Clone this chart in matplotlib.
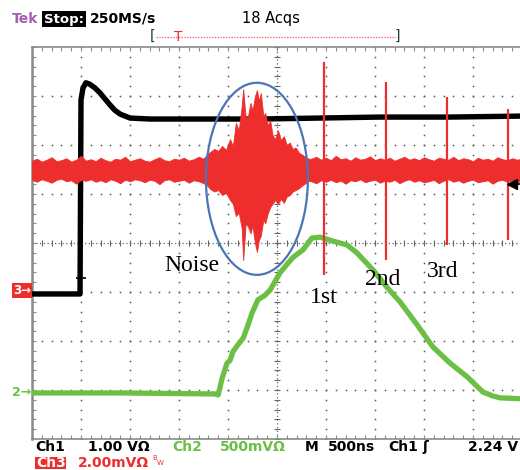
import matplotlib.pyplot as plt
from matplotlib.patches import Ellipse, Rectangle
from matplotlib.lines import Line2D
import numpy as np

W, H = 520, 470

# traces, in graticule divisions (x: -5..5, y: -4..4)
ch1_x = [-5.0, -4.02, -4.0, -3.96, -3.90, -3.82, -3.71, -3.61, -3.51, -3.41, -3.31,
         -3.20, -3.10, -3.0, -2.59, -1.57, -0.35, 0.87, 2.10, 3.53, 5.0]
ch1_y = [-1.04, -1.04, 2.92, 3.16, 3.27, 3.24, 3.16, 3.06, 2.94, 2.82, 2.71,
         2.63, 2.59, 2.55, 2.53, 2.53, 2.53, 2.55, 2.57, 2.57, 2.59]

ch2_x = [-5.0, -3.20, -1.27, -1.20, -1.12, -1.02, -0.96, -0.90, -0.80, -0.69, -0.60,
         -0.51, -0.39, -0.25, -0.14, 0.06, 0.20, 0.33, 0.53, 0.71, 0.88, 1.14, 1.43,
         1.63, 1.96, 2.24, 2.51, 2.86, 3.18, 3.53, 3.88, 4.20, 4.40, 4.55, 5.0]
ch2_y = [-3.06, -3.06, -3.08, -3.10, -2.76, -2.45, -2.40, -2.22, -2.08, -1.94, -1.70,
         -1.43, -1.16, -1.07, -0.96, -0.61, -0.44, -0.29, -0.14, 0.10, 0.12, 0.04, -0.04,
         -0.20, -0.55, -0.90, -1.20, -1.67, -2.12, -2.45, -2.73, -3.04, -3.12, -3.16, -3.18]

# Ch3 noise band envelope
ch3_x = [-5.0, -4.9, -4.8, -4.7, -4.6, -4.5, -4.4, -4.3, -4.2, -4.1, -4.0, -3.9,
         -3.8, -3.7, -3.6, -3.5, -3.4, -3.3, -3.2, -3.1, -3.0, -2.9, -2.8, -2.7,
         -2.6, -2.5, -2.4, -2.3, -2.2, -2.1, -2.0, -1.9, -1.8, -1.7, -1.6, -1.5,
         -1.45, -1.36, -1.28, -1.20, -1.12, -1.04, -0.96, -0.90, -0.84, -0.78, -0.72,
         -0.69, -0.64, -0.59, -0.54, -0.50, -0.45, -0.41, -0.37, -0.33, -0.28, -0.24,
         -0.19, -0.14, -0.09, -0.04, 0.02, 0.08, 0.14, 0.20, 0.26, 0.32, 0.38, 0.45,
         0.52, 0.58, 0.64,
         0.7, 0.8, 0.9, 1.0, 1.1, 1.2, 1.3, 1.4, 1.5, 1.6, 1.7, 1.8, 1.9, 2.0, 2.1,
         2.2, 2.3, 2.4, 2.5, 2.6, 2.7, 2.8, 2.9, 3.0, 3.1, 3.2, 3.3, 3.4, 3.5, 3.6,
         3.7, 3.8, 3.9, 4.0, 4.1, 4.2, 4.3, 4.4, 4.5, 4.6, 4.7, 4.8, 4.9, 5.0]
ch3_top = [1.68, 1.72, 1.66, 1.70, 1.75, 1.67, 1.69, 1.73, 1.66, 1.70, 1.78, 1.68,
           1.71, 1.67, 1.74, 1.69, 1.66, 1.72, 1.70, 1.76, 1.67, 1.70, 1.73, 1.68,
           1.66, 1.71, 1.75, 1.69, 1.67, 1.72, 1.70, 1.74, 1.68, 1.71, 1.76, 1.72,
           1.78, 1.86, 1.92, 1.88, 1.98, 1.90, 2.12, 1.98, 2.45, 2.30, 2.80,
           3.14, 2.55, 2.60, 2.86, 2.70, 3.00, 3.12, 2.90, 3.06, 2.60, 2.65,
           2.40, 2.50, 2.20, 2.12, 2.30, 2.10, 2.18, 2.00, 2.05, 1.92, 1.95, 1.84,
           1.80, 1.76, 1.72,
           1.72, 1.76, 1.70, 1.74, 1.69, 1.78, 1.71, 1.73, 1.68, 1.75, 1.70, 1.72,
           1.77, 1.69, 1.73, 1.70, 1.74, 1.68, 1.72, 1.76, 1.70, 1.73, 1.69, 1.75,
           1.71, 1.68, 1.74, 1.72, 1.70, 1.76, 1.69, 1.73, 1.71, 1.67, 1.74, 1.70,
           1.72, 1.68, 1.75, 1.71, 1.69, 1.73, 1.70, 1.72]
ch3_bot = [1.29, 1.25, 1.30, 1.27, 1.23, 1.29, 1.31, 1.26, 1.28, 1.21, 1.29, 1.27,
           1.30, 1.25, 1.28, 1.24, 1.30, 1.27, 1.22, 1.29, 1.26, 1.30, 1.28, 1.24,
           1.29, 1.27, 1.20, 1.28, 1.30, 1.25, 1.27, 1.29, 1.23, 1.28, 1.26, 1.22,
           1.20, 1.10, 1.05, 1.08, 0.98, 1.02, 0.88, 0.80, 0.55, 0.62, 0.30,
           -0.35, 0.40, 0.33, 0.20, 0.35, 0.00, -0.18, 0.06, 0.15, 0.47, 0.40,
           0.60, 0.73, 0.80, 0.88, 0.80, 0.90, 0.82, 0.95, 0.98, 1.05, 1.08, 1.12,
           1.18, 1.22, 1.27,
           1.26, 1.22, 1.28, 1.25, 1.29, 1.24, 1.27, 1.21, 1.28, 1.26, 1.30, 1.24,
           1.27, 1.29, 1.23, 1.27, 1.25, 1.29, 1.22, 1.27, 1.30, 1.25, 1.28, 1.24,
           1.26, 1.29, 1.22, 1.27, 1.30, 1.25, 1.28, 1.23, 1.27, 1.29, 1.24, 1.26,
           1.28, 1.21, 1.27, 1.29, 1.25, 1.28, 1.24, 1.27]

spike_x = [0.96, 2.22, 3.47, 4.71]
spike_top = [3.69, 3.29, 2.98, 2.73]
spike_bot = [-0.65, -0.35, -0.04, 0.06]

labels = ['Noise', '1st', '2nd', '3rd']
label_x = [-2.29, 0.67, 1.80, 3.06]
label_y = [-0.57, -1.22, -0.86, -0.69]

ell_center = (-0.41, 1.31)
ell_w, ell_h = 2.08, 3.92

RED = '#ee2d2d'
GREEN = '#6cbf45'
GRAY = '#8a8a8a'

fig = plt.figure(figsize=(W / 100, H / 100), dpi=100)
ax = fig.add_axes([32 / W, 31 / H, 490 / W, 392 / H])
ax.set_xlim(-5, 5)
ax.set_ylim(-4, 4)
ax.axis('off')

# graticule dots
fine_x = np.arange(-5, 5.01, 0.2)
fine_y = np.arange(-4, 4.01, 0.2)
for gx in range(-4, 5):
    if gx != 0:
        ax.plot([gx] * len(fine_y), fine_y, ls='none', marker='s', ms=1.1, color='#555555', mew=0)
for gy in range(-3, 4):
    if gy != 0:
        ax.plot(fine_x, [gy] * len(fine_x), ls='none', marker='s', ms=1.1, color='#555555', mew=0)

# centre lines with ticks
ax.plot([-5, 5], [0, 0], ls=(0, (1, 2)), color='#666666', lw=0.9)
ax.plot([0, 0], [-4, 4], ls=(0, (1, 2)), color='#666666', lw=0.9)
ax.plot(fine_x, [0] * len(fine_x), ls='none', marker='|', ms=4, mew=0.8, color='#666666')
ax.plot([0] * len(fine_y), fine_y, ls='none', marker='_', ms=4, mew=0.8, color='#666666')

# frame: top & bottom rulers, left edge
ax.plot([-5, 5], [4, 4], color=GRAY, lw=1.2, clip_on=False)
ax.plot([-5, 5], [-4, -4], color=GRAY, lw=1.2, clip_on=False)
ax.plot([-5, -5], [-4, 4], color=GRAY, lw=1.8, clip_on=False)
ax.vlines(fine_x, 3.91, 4, color=GRAY, lw=0.8)
ax.vlines(fine_x, -4, -3.91, color=GRAY, lw=0.8)
ax.hlines(fine_y, -5, -4.92, color=GRAY, lw=0.8)

# traces
ax.plot(ch1_x, ch1_y, color='black', lw=3.9, solid_joinstyle='round', zorder=3)
ax.hlines(-0.71, -4.10, -3.90, color='black', lw=1.2, zorder=3)
ax.plot(ch2_x, ch2_y, color=GREEN, lw=3.8, solid_joinstyle='round', zorder=4)
ax.fill_between(ch3_x, ch3_bot, ch3_top, color=RED, lw=0.6, zorder=5)
ax.vlines(spike_x, spike_bot, spike_top, color=RED, lw=1.6, zorder=5)
ax.plot([4.8], [1.2], marker='<', ms=7, color='black', zorder=6)
ax.plot([4.8, 5.0], [1.2, 1.2], color='black', lw=1.2, zorder=6)

ax.add_patch(Ellipse(ell_center, ell_w, ell_h, fill=False, ec='#4a76b5', lw=1.6, zorder=7))

for t, x, y in zip(labels, label_x, label_y):
    ax.text(x, y, t, family='Liberation Serif', fontsize=17, ha='left', va='baseline', zorder=8)


def ft(x, y, s, **kw):
    kw.setdefault('family', 'DejaVu Sans')
    kw.setdefault('fontweight', 'bold')
    kw.setdefault('fontsize', 10)
    kw.setdefault('va', 'center')
    fig.text(x / W, 1 - y / H, s, **kw)


# header
ft(12, 19, 'Tek', color='#a45fb0')
ft(44, 19, 'Stop:', color='white', fontsize=9.5,
   bbox=dict(boxstyle='square,pad=0.12', fc='black', ec='none'))
ft(90, 19, '250MS/s')
ft(242, 19, '18 Acqs', fontweight='normal', fontsize=10.5)
ft(150, 36, '[', color='#1e3c3c', fontweight='normal', fontsize=10)
ft(395, 36, ']', color='#1e3c3c', fontweight='normal', fontsize=10)
fig.add_artist(Line2D([156 / W, 396 / W], [1 - 37 / H] * 2, color='#f07070', lw=1,
                      ls=(0, (1, 1)), transform=fig.transFigure))
ft(178, 37, 'T', color=RED, fontweight='normal', fontsize=10, ha='center')

# footer
ft(35, 447, 'Ch1')
ft(88, 447, '1.00 VΩ')
ft(172, 447, 'Ch2', color=GREEN)
ft(220, 447, '500mVΩ', color=GREEN)
ft(305, 447, 'M')
ft(328, 447, '500ns')
ft(388, 447, 'Ch1')
ft(423, 447, 'ʃ')
ft(468, 447, '2.24 V')
fig.add_artist(Rectangle((35 / W, 1 - 469 / H), 31 / W, 12 / H, fc=RED, ec='none',
                         transform=fig.transFigure))
ft(36, 463, 'Ch3', color='white')
ft(78, 463, '2.00mVΩ', color=RED)
ft(152, 458, 'B', color=RED, fontsize=5, fontweight='normal')
ft(157, 463, 'W', color=RED, fontsize=5, fontweight='normal')

# ground markers
fig.add_artist(Rectangle((12 / W, 1 - 298 / H), 20 / W, 15 / H, fc=RED, ec='none',
                         transform=fig.transFigure))
ft(13, 290, '3→', color='white', fontsize=8.5)
ft(12, 393, '2→', color=GREEN, fontsize=9)

fig.savefig('out.png', dpi=100)
